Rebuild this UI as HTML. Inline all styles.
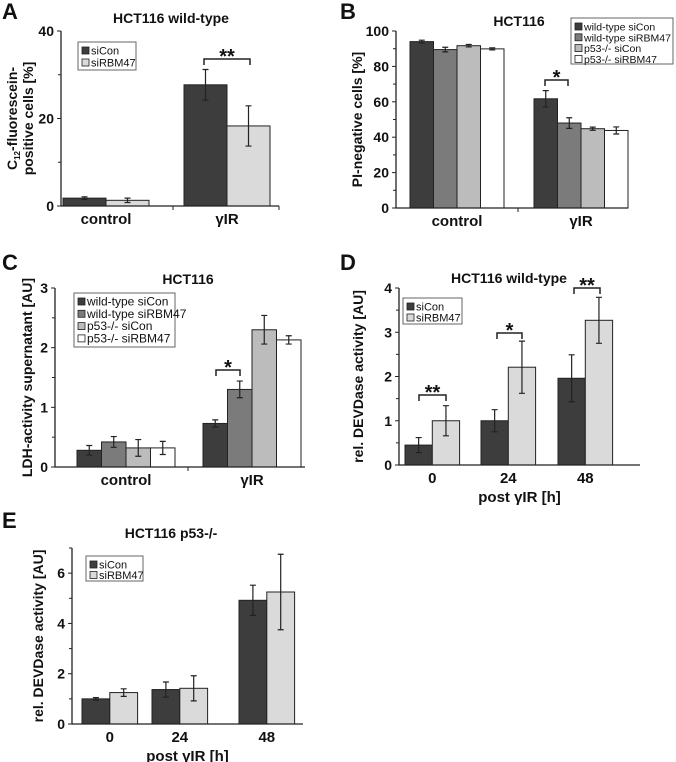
<!DOCTYPE html>
<html><head><meta charset="utf-8"><style>
html,body{margin:0;padding:0;background:#fff;}
svg{display:block;font-family:"Liberation Sans",Arial,sans-serif;}
</style></head><body>
<svg id="fig" width="676" height="762" viewBox="0 0 676 762" xmlns="http://www.w3.org/2000/svg"></svg>
<script>
// ---- Data ----
const aCategories = ["control", "γIR"];
const aSiCon = [1.8, 27.7];
const aSiConErr = [0.3, 3.5];
const aSiRBM = [1.3, 18.3];
const aSiRBMErr = [0.5, 4.6];
const aTicks = [0, 20, 40];

const bCategories = ["control", "γIR"];
const bWtSiCon = [94, 61.7];
const bWtSiConErr = [0.8, 4.6];
const bWtSiRBM = [89.5, 48];
const bWtSiRBMErr = [1.3, 3];
const bKoSiCon = [91.7, 44.8];
const bKoSiConErr = [0.7, 0.9];
const bKoSiRBM = [89.9, 43.8];
const bKoSiRBMErr = [0.6, 2];
const bTicks = [0, 20, 40, 60, 80, 100];

const cCategories = ["control", "γIR"];
const cWtSiCon = [0.28, 0.73];
const cWtSiConErr = [0.08, 0.06];
const cWtSiRBM = [0.42, 1.3];
const cWtSiRBMErr = [0.09, 0.14];
const cKoSiCon = [0.32, 2.3];
const cKoSiConErr = [0.14, 0.24];
const cKoSiRBM = [0.32, 2.13];
const cKoSiRBMErr = [0.11, 0.07];
const cTicks = [0, 1, 2, 3];

const dCategories = ["0", "24", "48"];
const dSiCon = [0.45, 1.0, 1.96];
const dSiConErr = [0.17, 0.25, 0.53];
const dSiRBM = [1.0, 2.21, 3.27];
const dSiRBMErr = [0.34, 0.59, 0.52];
const dTicks = [0, 1, 2, 3, 4];

const eCategories = ["0", "24", "48"];
const eSiCon = [1.0, 1.37, 4.92];
const eSiConErr = [0.05, 0.3, 0.6];
const eSiRBM = [1.25, 1.42, 5.25];
const eSiRBMErr = [0.15, 0.5, 1.5];
const eTicks = [0, 2, 4, 6];

const NS = "http://www.w3.org/2000/svg";
const fig = document.getElementById("fig");
function mk(tag, parent, attrs) {
  const el = document.createElementNS(NS, tag);
  for (const k in attrs) el.setAttribute(k, attrs[k]);
  parent.appendChild(el);
  return el;
}
function txt(parent, x, y, s, size, weight, anchor, name) {
  const t = mk("text", parent, {x: x, y: y, "font-size": size, "font-weight": weight, "text-anchor": anchor, fill: "#111"});
  t.textContent = s;
  
  
  return t;
}

function chart(o) {
  const g = mk("g", fig, {});
  
  
  const y = v => o.y0 - (v / o.max) * (o.y0 - o.yTop);
  o.series.forEach((s, si) => {
    s.vals.forEach((v, ci) => {
      const x0 = o.groupX[ci] + si * o.bw;
      const r = mk("rect", g, {x: x0, y: y(v), width: o.bw, height: o.y0 - y(v), fill: s.color, stroke: "#222", "stroke-width": 1});
      
      
      const cx = x0 + o.bw / 2, e = s.err[ci];
      const eb = mk("path", g, {d: `M${cx},${y(v+e)}V${y(v-e)}M${cx-3},${y(v+e)}H${cx+3}M${cx-3},${y(v-e)}H${cx+3}`, stroke: "#222", "stroke-width": 1.2, fill: "none"});
      
      
    });
  });
  const ax = mk("path", g, {d: `M${o.x0},${o.yTop}V${o.y0}H${o.xEnd}`, stroke: "#222", "stroke-width": 1.3, fill: "none"});
  
  
  o.ticks.forEach(t => {
    mk("line", g, {x1: o.x0 - 4, x2: o.x0, y1: y(t), y2: y(t), stroke: "#222"});
    txt(g, o.x0 - 7, y(t) + 5, String(t), 14, "bold", "end", 'y-tick-label');
  });
  o.minor.forEach(t => { mk("line", g, {x1: o.x0 - 3, x2: o.x0, y1: y(t), y2: y(t), stroke: "#222"}); });
  o.xTicks.forEach(xt => { mk("line", g, {x1: xt, x2: xt, y1: o.y0, y2: o.y0 + 4, stroke: "#222"}); });
  const n = o.series.length;
  o.cats.forEach((c, ci) => {
    txt(g, o.groupX[ci] + n * o.bw / 2, o.y0 + 18, c, 15, "bold", "middle", 'x-tick-label');
  });
  if (o.xTitle) txt(g, (o.x0 + o.xEnd) / 2, o.y0 + 37, o.xTitle, 15, "bold", "middle", 'x-axis-title');
  txt(g, o.titleX, o.titleY, o.title, 14, "bold", "middle", 'chart-title');
  txt(g, o.letterX, o.letterY, o.letter, 22, "bold", "start", 'panel-letter');
  const yt = mk("text", g, {transform: `translate(${o.ytX},${(o.y0 + o.yTop) / 2}) rotate(-90)`, "text-anchor": "middle", "font-size": 14, "font-weight": "bold", fill: "#111"});
  
  
  if (o.ytHtml) { yt.innerHTML = o.ytHtml; } else { yt.textContent = o.yTitle; }
  const L = o.legend;
  const lg = mk("g", g, {});
  
  
  mk("rect", lg, {x: L.x, y: L.y, width: L.w, height: L.h, fill: "#fff", stroke: "#666"});
  o.series.forEach((s, si) => {
    const yy = L.y + 3 + si * L.dy;
    mk("rect", lg, {x: L.x + 4, y: yy + 2, width: 7, height: 7, fill: s.color, stroke: "#222", "stroke-width": 0.8});
    txt(lg, L.x + 13, yy + 9.5, s.label, L.fs, "normal", "start", 'legend-entry');
  });
  (o.sig || []).forEach(b => {
    const p = mk("path", g, {d: `M${b.x1},${b.y + 6}V${b.y}H${b.x2}V${b.y + 6}`, stroke: "#222", "stroke-width": 1.5, fill: "none"});
    
    
    txt(g, (b.x1 + b.x2) / 2, b.y + 4, b.s, 20, "bold", "middle", 'significance-stars');
  });
}

const C1 = "#3d3d3d", C2 = "#7b7b7b", C3 = "#bcbcbc", C4 = "#ffffff", CL = "#dadada";

chart({name: "chart-a", letter: "A", letterX: 2, letterY: 19, title: "HCT116 wild-type", titleX: 171, titleY: 23,
  x0: 61, xEnd: 279, yTop: 31, y0: 206, max: 40, ticks: aTicks, minor: [10, 30], xTicks: [173, 279],
  groupX: [63, 184], bw: 43, cats: aCategories, ytX: 24,
  ytHtml: '<tspan x="0" dy="-7">C<tspan font-size="8" dy="3">12</tspan><tspan dy="-3">-fluorescein-</tspan></tspan><tspan x="0" dy="16">positive cells [%]</tspan>',
  legend: {x: 78, y: 42, w: 58, h: 28, dy: 12, fs: 11},
  series: [{key: "sicon", label: "siCon", vals: aSiCon, err: aSiConErr, color: C1},
           {key: "sirbm47", label: "siRBM47", vals: aSiRBM, err: aSiRBMErr, color: CL}],
  sig: [{x1: 204, x2: 250, y: 59, s: "**"}]});

chart({name: "chart-b", letter: "B", letterX: 340, letterY: 19, title: "HCT116", titleX: 519, titleY: 26,
  x0: 396, xEnd: 628, yTop: 31, y0: 208, max: 100, ticks: bTicks, minor: [10, 30, 50, 70, 90], xTicks: [518],
  groupX: [410, 534], bw: 23.5, cats: bCategories, ytX: 362, yTitle: "PI-negative cells [%]",
  legend: {x: 571, y: 18, w: 102, h: 46, dy: 10.8, fs: 10.5},
  series: [{key: "wt-sicon", label: "wild-type siCon", vals: bWtSiCon, err: bWtSiConErr, color: C1},
           {key: "wt-sirbm47", label: "wild-type siRBM47", vals: bWtSiRBM, err: bWtSiRBMErr, color: C2},
           {key: "ko-sicon", label: "p53-/- siCon", vals: bKoSiCon, err: bKoSiConErr, color: C3},
           {key: "ko-sirbm47", label: "p53-/- siRBM47", vals: bKoSiRBM, err: bKoSiRBMErr, color: C4}],
  sig: [{x1: 545, x2: 568, y: 80, s: "*"}]});

chart({name: "chart-c", letter: "C", letterX: 2, letterY: 270, title: "HCT116", titleX: 188, titleY: 284,
  x0: 55, xEnd: 305, yTop: 288, y0: 467, max: 3, ticks: cTicks, minor: [0.5, 1.5, 2.5], xTicks: [188],
  groupX: [77, 203], bw: 24.5, cats: cCategories, ytX: 32, yTitle: "LDH-activity supernatant [AU]",
  legend: {x: 74, y: 293, w: 101, h: 54, dy: 12.3, fs: 12},
  series: [{key: "wt-sicon", label: "wild-type siCon", vals: cWtSiCon, err: cWtSiConErr, color: C1},
           {key: "wt-sirbm47", label: "wild-type siRBM47", vals: cWtSiRBM, err: cWtSiRBMErr, color: C2},
           {key: "ko-sicon", label: "p53-/- siCon", vals: cKoSiCon, err: cKoSiConErr, color: C3},
           {key: "ko-sirbm47", label: "p53-/- siRBM47", vals: cKoSiRBM, err: cKoSiRBMErr, color: C4}],
  sig: [{x1: 216, x2: 240, y: 370, s: "*"}]});

chart({name: "chart-d", letter: "D", letterX: 340, letterY: 270, title: "HCT116 wild-type", titleX: 509, titleY: 283,
  x0: 399, xEnd: 640, yTop: 288, y0: 465, max: 4, ticks: dTicks, minor: [0.5, 1.5, 2.5, 3.5], xTicks: [],
  groupX: [405, 481, 558], bw: 27.3, cats: dCategories, ytX: 363, yTitle: "rel. DEVDase activity [AU]", xTitle: "post γIR [h]",
  legend: {x: 403, y: 298, w: 59, h: 26, dy: 11, fs: 11},
  series: [{key: "sicon", label: "siCon", vals: dSiCon, err: dSiConErr, color: C1},
           {key: "sirbm47", label: "siRBM47", vals: dSiRBM, err: dSiRBMErr, color: CL}],
  sig: [{x1: 419, x2: 446, y: 395, s: "**"}, {x1: 497, x2: 522, y: 333, s: "*"}, {x1: 574, x2: 600, y: 288, s: "**"}]});

chart({name: "chart-e", letter: "E", letterX: 2, letterY: 528, title: "HCT116 p53-/-", titleX: 171, titleY: 538,
  x0: 72, xEnd: 303, yTop: 548, y0: 724, max: 7, ticks: eTicks, minor: [1, 3, 5, 7], xTicks: [],
  groupX: [82, 152, 239], bw: 27.8, cats: eCategories, ytX: 43, yTitle: "rel. DEVDase activity [AU]", xTitle: "post γIR [h]",
  legend: {x: 86, y: 556, w: 57, h: 25, dy: 10.5, fs: 11},
  series: [{key: "sicon", label: "siCon", vals: eSiCon, err: eSiConErr, color: C1},
           {key: "sirbm47", label: "siRBM47", vals: eSiRBM, err: eSiRBMErr, color: CL}],
  sig: []});
</script>
</body></html>
